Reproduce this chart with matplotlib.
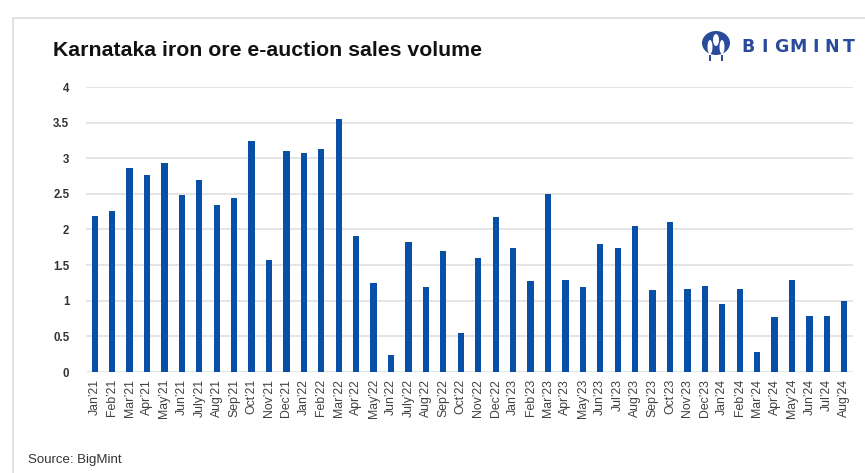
import matplotlib as mpl
mpl.use('Agg')
import matplotlib.pyplot as plt
from matplotlib.patches import Rectangle, Ellipse
import numpy as np

plt.rcParams['font.family'] = ['Liberation Sans', 'DejaVu Sans']

# monthly e-auction sales volume
months = ["Jan’21", "Feb’21", "Mar’21", "Apr’21", "May’21", "Jun’21", "July’21", "Aug’21",
          "Sep’21", "Oct’21", "Nov’21", "Dec’21", "Jan’22", "Feb’22", "Mar’22", "Apr’22",
          "May’22", "Jun’22", "July’22", "Aug’22", "Sep’22", "Oct’22", "Nov’22", "Dec’22",
          "Jan’23", "Feb’23", "Mar’23", "Apr’23", "May’23", "Jun’23", "Jul’23", "Aug’23",
          "Sep’23", "Oct’23", "Nov’23", "Dec’23", "Jan’24", "Feb’24", "Mar’24", "Apr’24",
          "May’24", "Jun’24", "Jul’24", "Aug’24"]
volume = [2.19, 2.26, 2.86, 2.76, 2.94, 2.49, 2.70, 2.34,
          2.44, 3.24, 1.57, 3.10, 3.08, 3.13, 3.55, 1.91,
          1.25, 0.24, 1.82, 1.20, 1.70, 0.55, 1.60, 2.18,
          1.74, 1.28, 2.50, 1.29, 1.20, 1.79, 1.74, 2.05,
          1.15, 2.10, 1.16, 1.21, 0.96, 1.16, 0.28, 0.77,
          1.29, 0.79, 0.79, 1.00]
yticks = [0, 0.5, 1, 1.5, 2, 2.5, 3, 3.5, 4]
ytick_labels = ['0', '0.5', '1', '1.5', '2', '2.5', '3', '3.5', '4']

W, H = 865, 473
fig = plt.figure(figsize=(W/100, H/100), dpi=100)
fig.patch.set_facecolor('white')

# outer frame (left and top edges visible)
fig.add_artist(Rectangle((13/W, -0.1), 1.2, (H-18)/H + 0.1, transform=fig.transFigure,
                         fill=False, edgecolor='#dcdcdc', linewidth=1.2))

ax = fig.add_axes([86/W, (H-372)/H, (853-86)/W, (372-87)/H])
x = np.arange(len(months))
ax.bar(x, volume, width=0.36, color='#0a4fa6', zorder=3)

ax.set_xlim(-0.5, len(months)-0.5)
ax.set_ylim(0, 4)
ax.set_yticks(yticks)
ax.set_yticklabels(ytick_labels, fontsize=8.3, fontweight='bold', color='#333333')
ax.set_xticks(x)
ax.set_xticklabels(months, rotation=90, fontsize=8.8, color='#404040')
ax.tick_params(axis='y', length=0, pad=12)
ax.tick_params(axis='x', length=0, pad=5)
ax.grid(axis='y', color='#e3e3e3', linewidth=1.3, zorder=0)
for s in ax.spines.values():
    s.set_visible(False)

fig.text(53/W, 1-51/H, 'Karnataka iron ore e-auction sales volume', fontsize=15.3,
         fontweight='bold', color='#111111', va='center', ha='left')
fig.text(28/W, 1-460/H, 'Source: BigMint', fontsize=9.5, color='#333333',
         va='center', ha='left')

# BigMint logo
logo_c = '#2a4b9b'
for i, ch in enumerate('BIGMINT'):
    fig.text((748 + i*16.8)/W, 1-47/H, ch, fontsize=12.5, fontweight='bold',
             color=logo_c, va='center', ha='center', family='DejaVu Sans')
fig.add_artist(Ellipse((716/W, 1-43/H), 28/W, 24/H, transform=fig.transFigure,
                       facecolor=logo_c, edgecolor='none'))
fig.add_artist(Ellipse((716/W, 1-40/H), 6/W, 12/H, transform=fig.transFigure,
                       facecolor='white', edgecolor='none'))
fig.add_artist(Ellipse((710/W, 1-47/H), 5/W, 14/H, transform=fig.transFigure,
                       facecolor='white', edgecolor='none'))
fig.add_artist(Ellipse((722/W, 1-47/H), 5/W, 14/H, transform=fig.transFigure,
                       facecolor='white', edgecolor='none'))
fig.add_artist(Rectangle((709/W, 1-61/H), 2/W, 6/H, transform=fig.transFigure,
                         facecolor=logo_c, edgecolor='none'))
fig.add_artist(Rectangle((721/W, 1-61/H), 2/W, 6/H, transform=fig.transFigure,
                         facecolor=logo_c, edgecolor='none'))

plt.savefig('out.png', dpi=100, facecolor='white')
